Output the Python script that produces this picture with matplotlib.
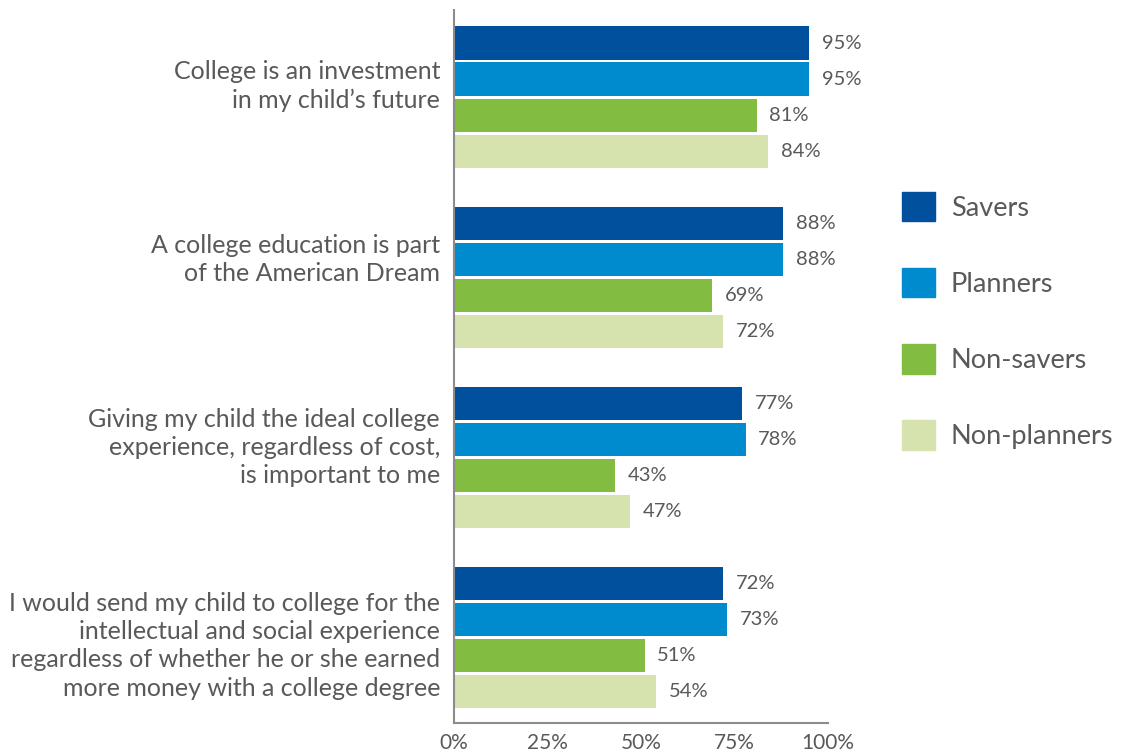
import matplotlib.pyplot as plt
from matplotlib.patches import Patch

plt.rcParams['font.family'] = ['Lato', 'DejaVu Sans']

# Data
statements = [
    "College is an investment\nin my child\u2019s future",
    "A college education is part\nof the American Dream",
    "Giving my child the ideal college\nexperience, regardless of cost,\nis important to me",
    "I would send my child to college for the\nintellectual and social experience\nregardless of whether he or she earned\nmore money with a college degree",
]
series = ["Savers", "Planners", "Non-savers", "Non-planners"]
savers = [95, 88, 77, 72]
planners = [95, 88, 78, 73]
non_savers = [81, 69, 43, 51]
non_planners = [84, 72, 47, 54]
ticks = [0, 25, 50, 75, 100]

# where each category label sits inside its group (layout only)
label_shift = [1.07, 0.88, 1.10, 1.60]

colors = ['#00509E', '#008BCE', '#82BC41', '#D6E3AE']
text_color = '#595959'

fig = plt.figure(figsize=(11.21, 7.51), dpi=100)
ax = fig.add_axes([0.405, 0.0373, 0.3336, 0.95])

all_vals = [savers, planners, non_savers, non_planners]
for j, vals in enumerate(all_vals):
    ys = [i * 5 + j for i in range(len(statements))]
    bars = ax.barh(ys, vals, height=0.92, color=colors[j], label=series[j])
    for b, v in zip(bars, vals):
        ax.annotate(f"{v}%", (b.get_width(), b.get_y() + b.get_height() / 2),
                    xytext=(9, 0), textcoords='offset points', va='center',
                    ha='left', fontsize=14.5, color=text_color)

ax.set_ylim(18.875, -0.93)
ax.set_xlim(0, 100)
ax.set_xticks(ticks)
ax.set_xticklabels([f"{t}%" for t in ticks], fontsize=15, color=text_color)
ax.tick_params(axis='x', length=0, pad=7)

ax.set_yticks([i * 5 + label_shift[i] for i in range(len(statements))])
ax.set_yticklabels(statements, fontsize=18, color=text_color, linespacing=1.28)
ax.tick_params(axis='y', length=0, pad=10)

for s in ['top', 'right']:
    ax.spines[s].set_visible(False)
for s in ['left', 'bottom']:
    ax.spines[s].set_color('#8c8c8c')
    ax.spines[s].set_linewidth(1.5)

handles = [Patch(color=c) for c in colors]
leg = fig.legend(handles, series, loc='upper left', bbox_to_anchor=(0.783, 0.777),
                 frameon=False, fontsize=19.5, handlelength=1.2, handleheight=1.3,
                 labelspacing=1.72, handletextpad=0.6)
for t in leg.get_texts():
    t.set_color(text_color)

fig.savefig('out.png', dpi=100)
